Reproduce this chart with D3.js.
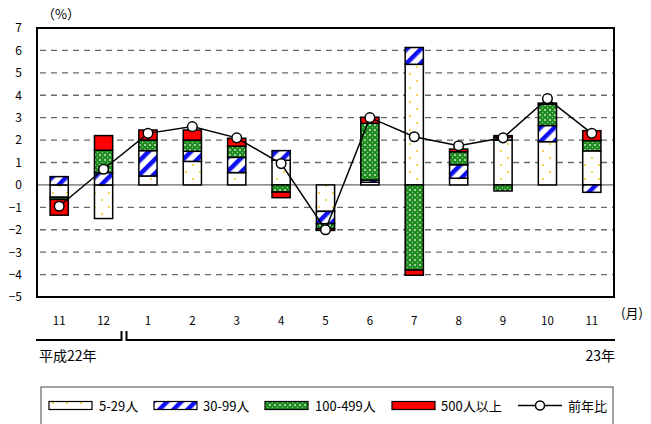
<!DOCTYPE html>
<html><head><meta charset="utf-8">
<script src="https://cdn.jsdelivr.net/npm/d3@7"></script>
<style>
html,body{margin:0;padding:0;background:#fff;}
svg text{font-family:"Noto Sans CJK JP","DejaVu Sans Condensed",sans-serif;fill:#000;}
</style></head>
<body>
<svg id="chart" width="651" height="424"></svg>
<script>
// ---- data ----
const monthLabels = ["11","12","1","2","3","4","5","6","7","8","9","10","11"];
const s5_29   = [-0.55,-1.50, 0.40, 1.05, 0.55, 1.10,-1.18, 0.12, 5.38, 0.30, 2.00, 1.93, 1.52];
const s30_99  = [ 0.37, 0.55, 1.13, 0.45, 0.68, 0.43,-0.55, 0.10, 0.75, 0.60, 0.12, 0.72,-0.33];
const s100_499= [-0.10, 1.00, 0.47, 0.50, 0.50,-0.32,-0.22, 2.53,-3.80, 0.58,-0.27, 0.95, 0.46];
const s500    = [-0.70, 0.65, 0.45, 0.45, 0.35,-0.25,-0.08, 0.27,-0.23, 0.12, 0.08, 0.05, 0.44];
const yoy     = [-0.95, 0.70, 2.30, 2.60, 2.10, 0.95,-2.00, 3.00, 2.15, 1.75, 2.10, 3.85, 2.30];
const yTicks  = [7,6,5,4,3,2,1,0,-1,-2,-3,-4,-5];
const seriesNames = ["5-29人","30-99人","100-499人","500人以上"];
const lineName = "前年比";

const svg = d3.select("#chart");
const L=37, R=614, T=28, B=297;

// ---- patterns ----
const defs = svg.append("defs");
const pDot = defs.append("pattern").attr("id","pDot").attr("patternUnits","userSpaceOnUse").attr("width",14).attr("height",14);
pDot.append("rect").attr("width",14).attr("height",14).attr("fill","#fff");
pDot.append("circle").attr("cx",4).attr("cy",4).attr("r",0.9).attr("fill","#f2c200");
pDot.append("circle").attr("cx",11).attr("cy",11).attr("r",0.9).attr("fill","#f2c200");

const pStripe = defs.append("pattern").attr("id","pStripe").attr("patternUnits","userSpaceOnUse")
  .attr("width",10).attr("height",10).attr("patternTransform","rotate(45)");
pStripe.append("rect").attr("width",10).attr("height",10).attr("fill","#fff");
pStripe.append("rect").attr("width",4.5).attr("height",10).attr("fill","#1010f0");

const pGreen = defs.append("pattern").attr("id","pGreen").attr("patternUnits","userSpaceOnUse").attr("width",5).attr("height",5);
pGreen.append("rect").attr("width",5).attr("height",5).attr("fill","#1f8a1f");
pGreen.append("circle").attr("cx",0).attr("cy",0).attr("r",1.1).attr("fill","#bfe3bf");
pGreen.append("circle").attr("cx",5).attr("cy",0).attr("r",1.1).attr("fill","#bfe3bf");
pGreen.append("circle").attr("cx",0).attr("cy",5).attr("r",1.1).attr("fill","#bfe3bf");
pGreen.append("circle").attr("cx",5).attr("cy",5).attr("r",1.1).attr("fill","#bfe3bf");
pGreen.append("circle").attr("cx",2.5).attr("cy",2.5).attr("r",0.7).attr("fill","#8fcf8f");

const fills = ["url(#pDot)","url(#pStripe)","url(#pGreen)","#ff0000"];

// ---- scales ----
const idx = monthLabels.map((d,i)=>i);
const x = d3.scaleBand().domain(idx).range([L,R]).paddingInner(0.59).paddingOuter(0.295);
const y = d3.scaleLinear().domain([-5,7]).range([B,T]);

// ---- grid ----
svg.append("g").selectAll("line").data(yTicks.filter(t=>t!==0 && t!==7 && t!==-5)).join("line")
  .attr("x1",L+3).attr("x2",R).attr("y1",d=>y(d)).attr("y2",d=>y(d))
  .attr("stroke","#6a6a6a").attr("stroke-width",1.4).attr("stroke-dasharray","6,5");
svg.append("line").attr("x1",L).attr("x2",R).attr("y1",y(0)).attr("y2",y(0))
  .attr("stroke","#444").attr("stroke-width",1);

// ---- y axis labels ----
const yAxis = d3.axisLeft(y).tickValues(yTicks).tickSize(0).tickPadding(15).tickFormat(d3.format("d"));
const ga = svg.append("g").attr("transform",`translate(${L},0)`).call(yAxis);
ga.select(".domain").remove();
ga.selectAll("text").attr("font-size",12).attr("font-family","'Noto Sans CJK JP',sans-serif");

svg.append("text").attr("x",42).attr("y",19).attr("font-size",13).text("（%）");

// ---- stacked bars ----
const rows = idx.map(i=>({i, a:s5_29[i], b:s30_99[i], c:s100_499[i], d:s500[i]}));
const stack = d3.stack().keys(["a","b","c","d"]).offset(d3.stackOffsetDiverging);
const stacked = stack(rows);
svg.append("g").selectAll("g").data(stacked).join("g")
  .attr("fill",(s,k)=>fills[k])
  .selectAll("rect").data(s=>s).join("rect")
  .attr("x",d=>x(d.data.i)).attr("width",x.bandwidth())
  .attr("y",d=>y(Math.max(d[0],d[1]))).attr("height",d=>Math.abs(y(d[0])-y(d[1])))
  .attr("stroke","#000").attr("stroke-width",1.5);

// ---- frame ----
svg.append("rect").attr("x",L).attr("y",T).attr("width",R-L).attr("height",B-T)
  .attr("fill","none").attr("stroke","#000").attr("stroke-width",2);

// ---- line ----
const line = d3.line().x((d,i)=>x(i)+x.bandwidth()/2).y(d=>y(d));
svg.append("path").datum(yoy).attr("d",line).attr("fill","none").attr("stroke","#000").attr("stroke-width",1.5);
svg.append("g").selectAll("circle").data(yoy).join("circle")
  .attr("cx",(d,i)=>x(i)+x.bandwidth()/2).attr("cy",d=>y(d)).attr("r",4.8)
  .attr("fill","#fff").attr("stroke","#000").attr("stroke-width",1.5);

// ---- x labels ----
const xAxis = d3.axisBottom(x).tickSize(0).tickPadding(0).tickFormat(i=>monthLabels[i]);
const gx = svg.append("g").attr("transform",`translate(0,317)`).call(xAxis);
gx.select(".domain").remove();
gx.selectAll("text").attr("font-size",11.5).attr("font-family","'Noto Sans CJK JP',sans-serif");

svg.append("text").attr("x",621).attr("y",318).attr("font-size",13).text("(月)");

// year brackets
const brk = svg.append("g").attr("stroke","#000").attr("stroke-width",2).attr("fill","none");
brk.append("path").attr("d",`M36,340H121.5V331`);
brk.append("path").attr("d",`M126.5,331V340H615`);
svg.append("text").attr("x",39).attr("y",361).attr("font-size",14).text("平成22年");
svg.append("text").attr("x",615).attr("y",361).attr("font-size",14).attr("text-anchor","end").text("23年");

// ---- legend ----
svg.append("rect").attr("x",41).attr("y",387).attr("width",572).attr("height",60)
  .attr("fill","none").attr("stroke","#444").attr("stroke-width",1);
const legX = [49,154,265,392];
const legTX = [99,203,315,441];
seriesNames.forEach((n,k)=>{
  svg.append("rect").attr("x",legX[k]).attr("y",401.5).attr("width",43).attr("height",8)
    .attr("fill",fills[k]).attr("stroke","#000").attr("stroke-width",1.2);
  svg.append("text").attr("x",legTX[k]).attr("y",410.5).attr("font-size",13).text(n);
});
svg.append("line").attr("x1",518).attr("x2",562).attr("y1",405.5).attr("y2",405.5).attr("stroke","#000").attr("stroke-width",1.5);
svg.append("circle").attr("cx",540).attr("cy",405.5).attr("r",4.5).attr("fill","#fff").attr("stroke","#000").attr("stroke-width",1.5);
svg.append("text").attr("x",568).attr("y",410.5).attr("font-size",13).text(lineName);
</script>
</body></html>
